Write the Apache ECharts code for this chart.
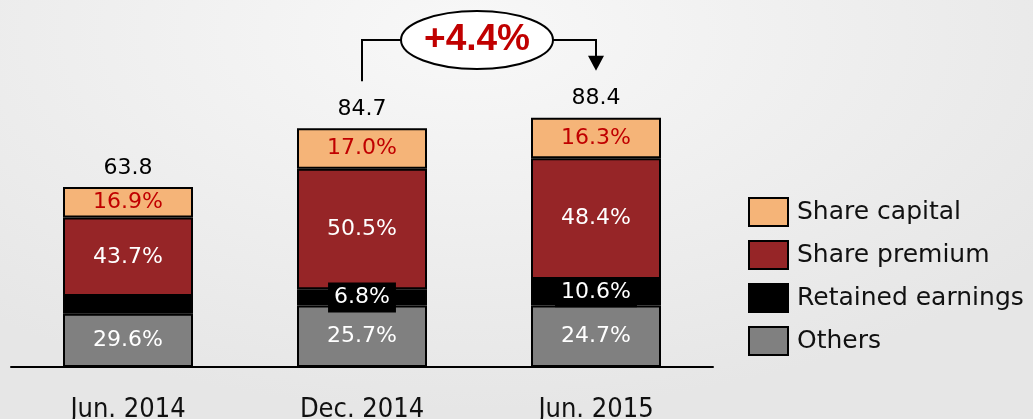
<!DOCTYPE html>
<html>
<head>
<meta charset="utf-8">
<script src="https://cdn.jsdelivr.net/npm/echarts@6/dist/echarts.min.js"></script>
<style>
  html, body { margin: 0; padding: 0; }
  body {
    width: 1033px; height: 419px; overflow: hidden;
    background: radial-gradient(ellipse 70% 90% at 45% 8%, #f8f8f8 0%, #eeeeee 55%, #e6e6e6 100%);
  }
  #chart { width: 1033px; height: 419px; }
</style>
</head>
<body>
<div id="chart"></div>
<script>
// Equity structure: totals per period and the share of each component (%)
const categories = ['Jun. 2014', 'Dec. 2014', 'Jun. 2015'];
const totals = [63.8, 84.7, 88.4];
const shareCapitalPct = [16.9, 17.0, 16.3];
const sharePremiumPct = [43.7, 50.5, 48.4];
const retainedPct = [9.8, 6.8, 10.6];
const othersPct = [29.6, 25.7, 24.7];
const retainedLabelShown = [false, true, true];
const growthText = '+4.4%';
const growthFrom = 1; // Dec. 2014
const growthTo = 2;   // Jun. 2015

const FONT = '"DejaVu Sans", sans-serif';

// Component amounts = total × share
function amounts(pcts) {
  return pcts.map((p, i) => ({ value: totals[i] * p / 100, pct: p }));
}

function pctLabel(color, extra) {
  return Object.assign({
    show: true,
    position: 'inside',
    color: color,
    fontFamily: FONT,
    fontSize: 22,
    formatter: p => p.data.pct.toFixed(1) + '%'
  }, extra || {});
}

const barCommon = {
  type: 'bar',
  stack: 'equity',
  barWidth: 130,
  itemStyle: { borderColor: '#000', borderWidth: 2 }
};

const retainedData = amounts(retainedPct).map((d, i) =>
  retainedLabelShown[i] ? d : Object.assign(d, { label: { show: false } })
);

const chart = echarts.init(document.getElementById('chart'));
chart.setOption({
  backgroundColor: 'transparent',
  animation: false,
  grid: { left: 11, right: 320, top: 85, bottom: 52, outerBoundsMode: 'none', containLabel: false },
  legend: {
    orient: 'vertical',
    left: 743,
    top: 192,
    icon: 'rect',
    itemWidth: 39,
    itemHeight: 28,
    itemGap: 13,
    data: ['Share capital', 'Share premium', 'Retained earnings', 'Others'],
    textStyle: { fontFamily: FONT, fontSize: 25, lineHeight: 28, color: '#111', padding: [0, 0, 0, 4] },
    itemStyle: { borderColor: '#000', borderWidth: 2 }
  },
  xAxis: {
    type: 'category',
    data: categories,
    axisLine: { lineStyle: { color: '#000', width: 2 } },
    axisTick: { show: false },
    axisLabel: {
      margin: 29,
      fontFamily: '"DejaVu Sans Condensed", "DejaVu Sans", sans-serif',
      fontSize: 27,
      color: '#111'
    }
  },
  yAxis: { type: 'value', min: 0, max: 100, show: false },
  series: [
    Object.assign({}, barCommon, {
      name: 'Others',
      data: amounts(othersPct),
      itemStyle: Object.assign({}, barCommon.itemStyle, { color: '#808080' }),
      label: pctLabel('#fff')
    }),
    Object.assign({}, barCommon, {
      name: 'Retained earnings',
      data: retainedData,
      itemStyle: Object.assign({}, barCommon.itemStyle, { color: '#000' }),
      label: pctLabel('#fff', { backgroundColor: '#000', padding: [4, 6] })
    }),
    Object.assign({}, barCommon, {
      name: 'Share premium',
      data: amounts(sharePremiumPct),
      itemStyle: Object.assign({}, barCommon.itemStyle, { color: '#962527' }),
      label: pctLabel('#fff')
    }),
    Object.assign({}, barCommon, {
      name: 'Share capital',
      data: amounts(shareCapitalPct),
      itemStyle: Object.assign({}, barCommon.itemStyle, { color: '#f5b478' }),
      label: pctLabel('#c00000')
    }),
    {
      name: 'Total',
      type: 'scatter',
      symbolSize: 0,
      itemStyle: { opacity: 1 },
      data: totals,
      label: {
        show: true,
        position: 'top',
        distance: 8,
        fontFamily: FONT,
        fontSize: 22,
        color: '#000',
        opacity: 1,
        formatter: p => p.value.toFixed(1)
      }
    }
  ]
});

// Growth callout between two periods
function drawCallout() {
  const a = chart.convertToPixel({ seriesIndex: 4 }, [growthFrom, totals[growthFrom]]);
  const b = chart.convertToPixel({ seriesIndex: 4 }, [growthTo, totals[growthTo]]);
  const lineY = 40;
  const cx = (a[0] + b[0]) / 2 - 2;
  const rx = 76, ry = 29;
  const leftBottom = a[1] - 47;
  const tipY = b[1] - 47;
  const stroke = { stroke: '#000', lineWidth: 2, fill: null };
  chart.setOption({
    graphic: [
      { type: 'polyline', shape: { points: [[a[0], leftBottom], [a[0], lineY], [cx - rx, lineY]] }, style: stroke },
      { type: 'polyline', shape: { points: [[cx + rx, lineY], [b[0], lineY], [b[0], tipY - 14]] }, style: stroke },
      { type: 'polygon', shape: { points: [[b[0] - 8, tipY - 15], [b[0] + 8, tipY - 15], [b[0], tipY]] }, style: { fill: '#000' } },
      { type: 'ellipse', shape: { cx: cx, cy: lineY, rx: rx, ry: ry }, style: { fill: '#fff', stroke: '#000', lineWidth: 2 } },
      {
        type: 'text',
        x: cx, y: lineY,
        style: {
          text: growthText,
          x: 0, y: 0,
          align: 'center', verticalAlign: 'middle',
          fontFamily: '"Liberation Sans", Arial, sans-serif',
          fontWeight: 'bold',
          fontSize: 37,
          fill: '#c00000'
        }
      }
    ]
  });
}
drawCallout();
</script>
</body>
</html>
